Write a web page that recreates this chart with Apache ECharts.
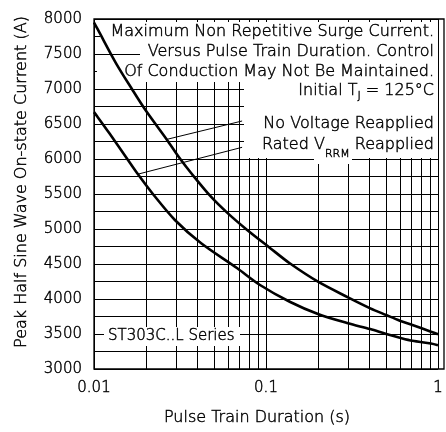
<!DOCTYPE html>
<html>
<head>
<meta charset="utf-8">
<script src="https://cdn.jsdelivr.net/npm/echarts@6/dist/echarts.min.js"></script>
<style>html,body{margin:0;padding:0;background:#fff;}#c{width:446px;height:432px;}</style>
</head>
<body>
<div id="c"></div>
<script>
// ---- data ----
const xTickLabels = ['0.01', '0.1', '1'];
const xMinorLines = [0.02, 0.03, 0.04, 0.05, 0.06, 0.07, 0.08, 0.09, 0.2, 0.3, 0.4, 0.5, 0.6, 0.7, 0.8, 0.9];
const yTicks = { min: 3000, max: 8000, interval: 500 };

const noVoltT = [0.01, 0.01054, 0.01341, 0.01671, 0.01991, 0.02647, 0.03151, 0.03678, 0.04786, 0.05961, 0.07771, 0.1054, 0.1374, 0.2005, 0.2996, 0.404, 0.5, 0.6, 0.71, 0.91, 1];
const noVoltV = [7950, 7847, 7371, 6990, 6700, 6280, 6010, 5796, 5461, 5230, 4986, 4730, 4510, 4247, 4024, 3867, 3771, 3690, 3629, 3533, 3496];

const ratedT = [0.01, 0.0104, 0.01229, 0.01529, 0.01784, 0.02223, 0.02953, 0.04199, 0.06808, 0.0923, 0.1374, 0.2005, 0.2996, 0.404, 0.5, 0.6, 0.71, 0.91, 1];
const ratedV = [6670, 6614, 6367, 6033, 5796, 5486, 5129, 4796, 4439, 4200, 3961, 3786, 3653, 3570, 3500, 3447, 3404, 3365, 3340];

// leader lines: [label end, curve point]
const noVoltLeader = [[0.07262, 6543], [0.02647, 6280]];
const ratedLeader = [[0.07262, 6167], [0.01784, 5781]];

// ---- layout ----
const G = { left: 94, top: 19, width: 350, height: 350 };
const FONT = '"DejaVu Sans", sans-serif';
const W = 200;
const TXT = '#000';
const SW = 0.45; // text outline to thicken the light face

const cv = document.createElement('canvas').getContext('2d');
function tw(t, size) { cv.font = W + ' ' + size + 'px ' + FONT; return cv.measureText(t).width; }

function pts(ts, vs) { return ts.map((t, i) => [t, vs[i]]); }

const chart = echarts.init(document.getElementById('c'), null, { renderer: 'canvas' });

function textEl(text, x, y, size, align, z) {
  return { type: 'text', z: z || 4, silent: true, x: x, y: y,
    style: { text: text, fill: TXT, stroke: TXT, lineWidth: SW, font: W + ' ' + size + 'px ' + FONT,
      textAlign: align || 'right', textVerticalAlign: 'middle' } };
}
function rectEl(x, y, w, h) {
  return { type: 'rect', z: 3, silent: true, shape: { x: x, y: y, width: w, height: h }, style: { fill: '#fff' } };
}

// composite text with subscript, right-aligned at xr
function subText(parts, xr, y) {
  let total = parts.reduce((s, p) => s + tw(p[0], p[1]), 0);
  let x = xr - total;
  const els = [];
  parts.forEach(p => {
    els.push(textEl(p[0], x, y + p[2], p[1], 'left'));
    x += tw(p[0], p[1]);
  });
  return els;
}

const xr = 434;
const graphics = [
  rectEl(100, 22, 338, 20),
  rectEl(140, 42, 298, 20),
  rectEl(97, 62, 341, 20),
  rectEl(244, 82, 194, 76),
  rectEl(314, 156, 38, 8),
  rectEl(104, 327, 136, 19),
  textEl('Maximum Non Repetitive Surge Current.', xr, 32, 16),
  textEl('Versus Pulse Train Duration. Control', xr, 52, 16),
  textEl('Of Conduction May Not Be Maintained.', xr, 72, 16),
  ...subText([['Initial T', 16, 0], ['J', 11, 5], [' = 125°C', 16, 0]], xr, 91),
  textEl('No Voltage Reapplied', xr, 124, 16),
  ...subText([['Rated V', 16, 0], ['RRM', 11, 9], [' Reapplied', 16, 0]], xr, 145),
  textEl('ST303C..L Series', 108, 336, 15, 'left'),
  { type: 'rect', z: 8, silent: true, shape: { x: G.left, y: G.top, width: G.width, height: G.height },
    style: { fill: null, stroke: '#000', lineWidth: 1.3 } }
];

const gridLine = { color: '#000', width: 1, type: 'solid' };
const tstyle = (size) => ({ fontFamily: FONT, fontWeight: W, fontSize: size, color: TXT, textBorderColor: TXT, textBorderWidth: SW });

const option = {
  animation: false,
  backgroundColor: '#fff',
  grid: { left: G.left, top: G.top, width: G.width, height: G.height, containLabel: false },
  xAxis: {
    type: 'log', logBase: 10, min: 0.01, max: 1,
    name: 'Pulse Train Duration (s)', nameLocation: 'middle', nameGap: 41,
    nameTextStyle: Object.assign(tstyle(16), { padding: [0, 18, 0, 0] }),
    axisLine: { show: false },
    axisTick: { show: false },
    axisLabel: Object.assign(tstyle(15), {
      margin: 12,
      formatter: v => xTickLabels[Math.round(Math.log10(v)) + 2]
    }),
    splitLine: { show: true, lineStyle: gridLine },
    minorTick: { show: false }, minorSplitLine: { show: false }
  },
  yAxis: {
    type: 'value', min: yTicks.min, max: yTicks.max, interval: yTicks.interval,
    name: 'Peak Half Sine Wave On-state Current (A)', nameLocation: 'middle', nameGap: 64,
    nameTextStyle: Object.assign(tstyle(16), { padding: [0, 0, 0, 24] }),
    axisLine: { show: false },
    axisTick: { show: false },
    axisLabel: Object.assign(tstyle(15), { margin: 12, formatter: v => String(v) }),
    splitLine: { show: true, lineStyle: gridLine },
    minorTick: { show: false, splitNumber: 2 },
    minorSplitLine: { show: true, lineStyle: gridLine }
  },
  graphic: graphics,
  series: [
    {
      type: 'line', name: 'minor', data: [], silent: true, z: 1,
      markLine: {
        z: 1, silent: true, symbol: 'none', animation: false,
        label: { show: false },
        lineStyle: { color: '#000', width: 1, type: 'solid' },
        emphasis: { disabled: true },
        data: xMinorLines.map(v => ({ xAxis: v }))
      }
    },
    {
      type: 'line', name: 'No Voltage Reapplied', data: pts(noVoltT, noVoltV), z: 6,
      smooth: 0.3, showSymbol: false, silent: true,
      lineStyle: { color: '#000', width: 2.6 }
    },
    {
      type: 'line', name: 'Rated VRRM Reapplied', data: pts(ratedT, ratedV), z: 6,
      smooth: 0.3, showSymbol: false, silent: true,
      lineStyle: { color: '#000', width: 2.6 }
    },
    {
      type: 'line', data: noVoltLeader, z: 6, showSymbol: false, silent: true,
      lineStyle: { color: '#000', width: 1 }
    },
    {
      type: 'line', data: ratedLeader, z: 6, showSymbol: false, silent: true,
      lineStyle: { color: '#000', width: 1 }
    }
  ]
};
chart.setOption(option);
</script>
</body>
</html>
